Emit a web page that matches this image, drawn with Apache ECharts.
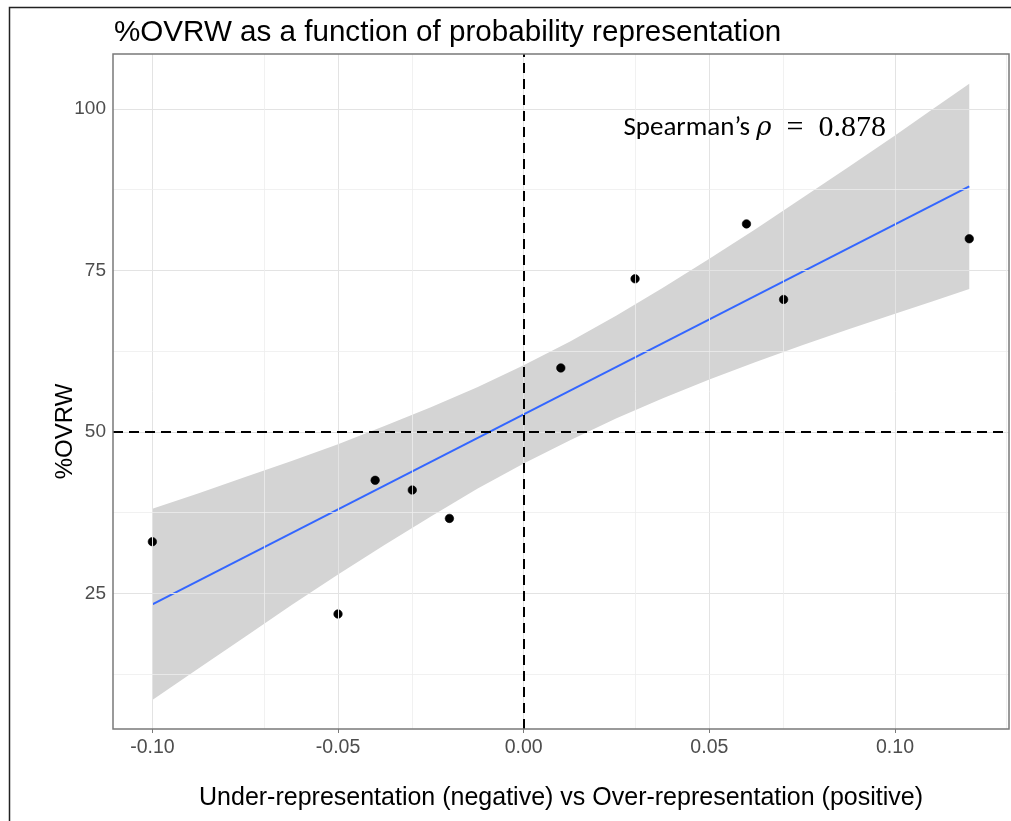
<!DOCTYPE html>
<html>
<head>
<meta charset="utf-8">
<script src="https://cdn.jsdelivr.net/npm/echarts@6/dist/echarts.min.js"></script>
<style>html,body{margin:0;padding:0;background:#fff;}#chart{width:1011px;height:821px;}</style>
</head>
<body>
<div id="chart"></div>
<script>
// ---- data ----
const xVals = [-0.10, -0.05, -0.04, -0.03, -0.02, 0.01, 0.03, 0.06, 0.07, 0.12];
const yVals = [33.0, 21.8, 42.5, 41.0, 36.6, 59.9, 73.7, 82.2, 70.5, 79.9];
const fitX = [-0.10, 0.12];
const fitY = [23.3, 88.0];
const bandX = [-0.10, -0.0875, -0.075, -0.0625, -0.05, -0.0375, -0.025, -0.0125, 0.00, 0.0125, 0.025, 0.0375, 0.05, 0.0625, 0.075, 0.0875, 0.10, 0.11, 0.12];
const bandLower = [8.5, 13.4, 18.3, 23.2, 27.9, 32.5, 36.9, 41.2, 45.1, 48.7, 52.1, 55.2, 58.1, 60.8, 63.4, 65.9, 68.3, 70.2, 72.1];
const bandUpper = [38.1, 40.5, 43.0, 45.5, 48.1, 50.9, 53.8, 56.9, 60.3, 64.0, 68.0, 72.3, 76.8, 81.4, 86.2, 91.0, 95.9, 99.9, 103.9];
const xTicks = [-0.10, -0.05, 0.00, 0.05, 0.10];
const yTicks = [25, 50, 75, 100];
const xMinorGrid = [-0.075, -0.025, 0.025, 0.075, 0.125];
const yMinorGrid = [12.5, 37.5, 62.5, 87.5];
const refX = 0;
const refY = 50;
const annotation = { x: 0.0622, y: 97.0, label: 'Spearman’s', rho: 'ρ', value: '0.878' };
const titleText = '%OVRW as a function of probability representation';
const xName = 'Under-representation (negative) vs Over-representation (positive)';
const yName = '%OVRW';

const chart = echarts.init(document.getElementById('chart'), null, { renderer: 'canvas' });

const gridLines = [];
xTicks.forEach(v => gridLines.push({ xAxis: v, lineStyle: { color: '#e3e3e3', width: 1, type: 'solid' } }));
yTicks.forEach(v => gridLines.push({ yAxis: v, lineStyle: { color: '#e3e3e3', width: 1, type: 'solid' } }));
xMinorGrid.forEach(v => gridLines.push({ xAxis: v, lineStyle: { color: '#eeeeee', width: 0.8, type: 'solid' } }));
yMinorGrid.forEach(v => gridLines.push({ yAxis: v, lineStyle: { color: '#eeeeee', width: 0.8, type: 'solid' } }));

const option = {
  animation: false,
  backgroundColor: '#fff',
  title: {
    text: titleText,
    left: 109, top: 13,
    textStyle: { fontFamily: 'Liberation Sans, Arial, sans-serif', fontSize: 29.6, fontWeight: 'normal', color: '#000' }
  },
  graphic: [{
    type: 'rect', left: 7, top: 5, z: 100, silent: true,
    shape: { width: 1020, height: 830 },
    style: { fill: 'none', stroke: '#222', lineWidth: 1.5 }
  }],
  grid: { left: 113, top: 54, right: 2, bottom: 92, show: true, borderColor: '#7a7a7a', borderWidth: 1.5, backgroundColor: 'transparent', z: 10 },
  xAxis: {
    type: 'value', min: -0.1106, max: 0.1307,
    name: xName, nameLocation: 'middle', nameGap: 57, nameMoveOverlap: false,
    nameTextStyle: { fontFamily: 'Liberation Sans, Arial, sans-serif', fontSize: 25, color: '#000' },
    axisLine: { show: false },
    axisTick: { show: true, customValues: xTicks, length: 4, lineStyle: { color: '#7a7a7a' } },
    axisLabel: { customValues: xTicks, margin: 9, fontFamily: 'Liberation Sans, Arial, sans-serif', fontSize: 19.5, color: '#4d4d4d', formatter: v => v.toFixed(2) },
    splitLine: { show: false }
  },
  yAxis: {
    type: 'value', min: 4.0, max: 108.5,
    name: yName, nameLocation: 'middle', nameGap: 36, nameMoveOverlap: false,
    nameTextStyle: { fontFamily: 'Liberation Sans, Arial, sans-serif', fontSize: 24, color: '#000', padding: [0, 80, 0, 0] },
    axisLine: { show: false },
    axisTick: { show: true, customValues: yTicks, length: 4, lineStyle: { color: '#7a7a7a' } },
    axisLabel: { customValues: yTicks, margin: 7, fontFamily: 'Liberation Sans, Arial, sans-serif', fontSize: 19, color: '#4d4d4d' },
    splitLine: { show: false }
  },
  series: [
    {
      name: 'grid', type: 'line', data: [], z: 0, silent: true,
      markLine: { silent: true, symbol: ['none', 'none'], label: { show: false }, animation: false, data: gridLines }
    },
    {
      name: 'band', type: 'custom', z: 1, silent: true,
      data: [0],
      renderItem: function (params, api) {
        const pts = [];
        for (let i = 0; i < bandX.length; i++) pts.push(api.coord([bandX[i], bandUpper[i]]));
        for (let i = bandX.length - 1; i >= 0; i--) pts.push(api.coord([bandX[i], bandLower[i]]));
        return { type: 'polygon', shape: { points: pts }, style: { fill: '#d4d4d4' } };
      }
    },
    {
      name: 'fit', type: 'line', z: 2, silent: true, symbol: 'none',
      data: fitX.map((x, i) => [x, fitY[i]]),
      lineStyle: { color: '#3366ff', width: 2 }
    },
    {
      name: 'ref', type: 'line', data: [], z: 3, silent: true,
      markLine: {
        silent: true, symbol: ['none', 'none'], label: { show: false }, animation: false,
        lineStyle: { color: '#000', width: 2, type: [10, 6] },
        data: [{ xAxis: refX }, { yAxis: refY }]
      }
    },
    {
      name: 'points', type: 'scatter', z: 4, silent: true,
      symbol: 'circle', symbolSize: 8.5,
      itemStyle: { color: '#000', opacity: 1, borderColor: '#000', borderWidth: 0.6 },
      data: xVals.map((x, i) => [x, yVals[i]]),
      markPoint: {
        silent: true, symbol: 'circle', symbolSize: 0,
        itemStyle: { color: 'transparent' },
        label: {
          show: true, position: 'inside',
          formatter: '{a|' + annotation.label + ' }{b|' + annotation.rho + '}{c|  =  ' + annotation.value + '}',
          rich: {
            a: { fontFamily: 'Carlito, Lato, "Open Sans", sans-serif', fontSize: 27, color: '#000' },
            b: { fontFamily: '"DejaVu Serif", "Liberation Serif", serif', fontStyle: 'italic', fontSize: 26, color: '#000' },
            c: { fontFamily: '"Liberation Serif", "DejaVu Serif", serif', fontSize: 30, color: '#000' }
          }
        },
        data: [{ coord: [annotation.x, annotation.y] }]
      }
    }
  ]
};
chart.setOption(option);
</script>
</body>
</html>
